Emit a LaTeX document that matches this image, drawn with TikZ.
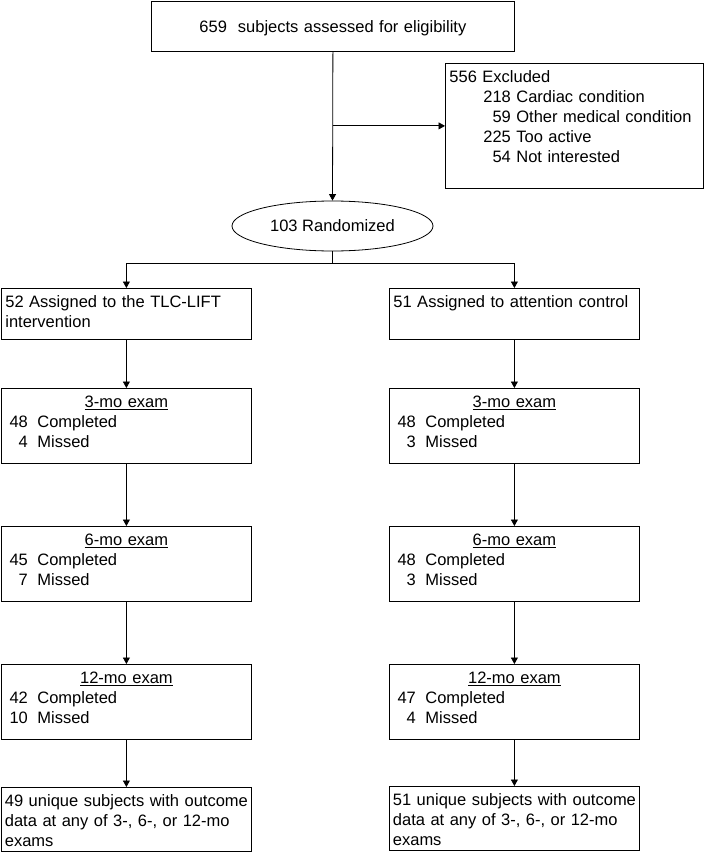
\documentclass[tikz,border=0pt]{standalone}
\usepackage{fontspec}
\setmainfont{Liberation Sans}
\usetikzlibrary{arrows.meta,shapes.geometric}
\newcommand{\exam}[3]{\makebox[\linewidth]{\underline{#1-mo exam}}\\
  \makebox[22.5pt][r]{#2}\hspace{9.5pt}Completed\\
  \makebox[22.5pt][r]{#3}\hspace{9.5pt}Missed}
\newcommand{\why}[2]{\hspace*{34pt}\makebox[27.5pt][r]{#1} #2}
\begin{document}
\begin{tikzpicture}[x=1pt, y=-1pt, line width=0.8pt,
    font=\fontsize{16.5}{20}\selectfont,
    box/.style={draw, anchor=north west, inner xsep=4pt, inner ysep=0pt,
      text width=#1, align=left, text height=19.5pt},
    box/.default=242pt,
    arr/.style={-{Triangle[length=6.5pt,width=7pt]}}]
  \useasboundingbox (0,0) rectangle (704,853);

  \node[box=355pt, align=center, text height=31pt, text depth=19pt] (assess) at (151,1)
    {659\ \ subjects assessed for eligibility};
  \node[box=250pt, text depth=105.5pt] (excl) at (445,63)
    {556 Excluded\\ \why{218}{Cardiac condition}\\ \why{59}{Other medical condition}\\
     \why{225}{Too active}\\ \why{54}{Not interested}};
  \node[draw, ellipse, minimum width=201pt, minimum height=50pt, inner sep=0pt] (rand)
    at (332.5,226) {103 Randomized};

  \node[box, text depth=31.5pt] (lassign) at (1,288) {52 Assigned to the TLC-LIFT\\ intervention};
  \node[box, text depth=31.5pt] (rassign) at (389,288) {51 Assigned to attention control};
  \node[box, text depth=55.5pt] (l3) at (1,388) {\exam{3}{48}{4}};
  \node[box, text depth=55.5pt] (r3) at (389,388) {\exam{3}{48}{3}};
  \node[box, text depth=55.5pt] (l6) at (1,526) {\exam{6}{45}{7}};
  \node[box, text depth=55.5pt] (r6) at (389,526) {\exam{6}{48}{3}};
  \node[box, text depth=55.5pt] (l12) at (1,664) {\exam{12}{42}{10}};
  \node[box, text depth=55.5pt] (r12) at (389,664) {\exam{12}{47}{4}};
  \node[box=243pt, inner xsep=3.5pt, text depth=44.5pt] (lfinal) at (1,787)
    {\mbox{49 unique subjects with outcome}\\ \mbox{data at any of 3-, 6-, or 12-mo}\\ exams};
  \node[box=243pt, inner xsep=3.5pt, text depth=44.5pt] (rfinal) at (389,786)
    {\mbox{51 unique subjects with outcome}\\ \mbox{data at any of 3-, 6-, or 12-mo}\\ exams};

  % connectors
  \draw[arr] (assess.south) -- (rand.north);
  \draw[arr] (assess.south |- excl.west) -- (excl.west);
  \draw[arr] (rand.south) -- ++(0,12) -| (lassign.north);
  \draw[arr] (rand.south) -- ++(0,12) -| (rassign.north);
  \foreach \a/\b in {lassign/l3, l3/l6, l6/l12, l12/lfinal,
                     rassign/r3, r3/r6, r6/r12, r12/rfinal}
    \draw[arr] (\a.south) -- (\b.north);
\end{tikzpicture}
\end{document}
